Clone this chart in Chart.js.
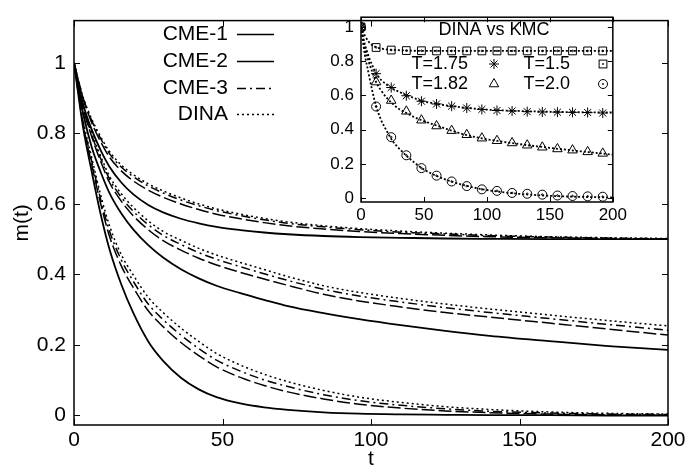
<!DOCTYPE html>
<html>
<head>
<meta charset="utf-8">
<script src="https://cdn.jsdelivr.net/npm/chart.js@4.4.1/dist/chart.umd.min.js"></script>
<style>
  html, body { margin: 0; padding: 0; background: #fff; }
  #wrap { position: relative; width: 692px; height: 470px; }
  #main { position: absolute; left: 0; top: 0; }
  #inset { position: absolute; left: 300px; top: 0; }
</style>
</head>
<body>
<div id="wrap">
  <canvas id="main" width="692" height="470"></canvas>
  <canvas id="inset" width="330" height="228"></canvas>
</div>
<script>
const FONT = '"Liberation Sans", Arial, Helvetica, sans-serif';

// main plot: time grid shared by all curves
const T_MAIN = [0, 3, 6, 9, 12, 16, 20, 25, 30, 36, 42, 48, 56, 64, 72, 84, 96, 110, 125, 140, 160, 180, 200];

// upper group (-> 0.5)
const DINA_A = [1, 0.905, 0.84, 0.79, 0.748, 0.71, 0.683, 0.657, 0.637, 0.617, 0.6, 0.586, 0.571, 0.559, 0.549, 0.538, 0.53, 0.523, 0.517, 0.512, 0.507, 0.504, 0.502];
const CME3_A = [1, 0.903, 0.836, 0.785, 0.742, 0.704, 0.677, 0.651, 0.631, 0.611, 0.595, 0.581, 0.567, 0.555, 0.545, 0.535, 0.527, 0.52, 0.515, 0.51, 0.506, 0.503, 0.501];
const CME2_A = [1, 0.9, 0.83, 0.776, 0.732, 0.693, 0.665, 0.639, 0.619, 0.6, 0.584, 0.571, 0.558, 0.547, 0.538, 0.529, 0.522, 0.516, 0.511, 0.507, 0.504, 0.502, 0.5];
const CME1_A = [1, 0.885, 0.81, 0.752, 0.705, 0.66, 0.627, 0.597, 0.576, 0.558, 0.545, 0.535, 0.526, 0.519, 0.514, 0.509, 0.506, 0.504, 0.502, 0.501, 0.5, 0.5, 0.5];

// middle group
const DINA_B = [1, 0.88, 0.80, 0.735, 0.678, 0.628, 0.59, 0.552, 0.522, 0.497, 0.474, 0.455, 0.434, 0.414, 0.394, 0.368, 0.349, 0.332, 0.316, 0.302, 0.285, 0.269, 0.254];
const CME3_B = [1, 0.878, 0.795, 0.728, 0.67, 0.618, 0.579, 0.541, 0.511, 0.485, 0.462, 0.443, 0.422, 0.402, 0.383, 0.358, 0.339, 0.322, 0.306, 0.292, 0.275, 0.258, 0.242];
const CME2_B = [1, 0.875, 0.79, 0.72, 0.66, 0.607, 0.566, 0.527, 0.496, 0.469, 0.446, 0.427, 0.406, 0.387, 0.369, 0.344, 0.325, 0.308, 0.292, 0.279, 0.262, 0.245, 0.228];
const CME1_B = [1, 0.86, 0.76, 0.69, 0.63, 0.572, 0.527, 0.483, 0.448, 0.415, 0.389, 0.368, 0.347, 0.328, 0.31, 0.29, 0.273, 0.256, 0.24, 0.226, 0.211, 0.197, 0.186];

// lower group (-> 0)
const DINA_C = [1, 0.84, 0.73, 0.625, 0.537, 0.455, 0.398, 0.335, 0.292, 0.248, 0.21, 0.176, 0.143, 0.117, 0.096, 0.071, 0.052, 0.037, 0.025, 0.017, 0.01, 0.006, 0.004];
const CME3_C = [1, 0.835, 0.72, 0.612, 0.522, 0.44, 0.38, 0.316, 0.272, 0.228, 0.19, 0.157, 0.126, 0.101, 0.082, 0.059, 0.042, 0.029, 0.019, 0.012, 0.007, 0.004, 0.003];
const CME2_C = [1, 0.83, 0.71, 0.6, 0.507, 0.423, 0.362, 0.297, 0.252, 0.207, 0.17, 0.138, 0.108, 0.085, 0.067, 0.047, 0.032, 0.021, 0.013, 0.008, 0.004, 0.002, 0.001];
const CME1_C = [1, 0.82, 0.69, 0.57, 0.47, 0.37, 0.29, 0.21, 0.155, 0.107, 0.074, 0.052, 0.034, 0.023, 0.016, 0.009, 0.005, 0.003, 0.002, 0.001, 0.001, 0, 0];

// inset: DINA curves for T=1.5 and T=1.75 (T=1.82, 2.0 reuse DINA_B/C)
const DINA_15 = [1, 0.95, 0.915, 0.893, 0.882, 0.874, 0.869, 0.866, 0.864, 0.862, 0.861, 0.86, 0.86, 0.86, 0.86, 0.86, 0.86, 0.86, 0.86, 0.86, 0.86, 0.86, 0.86];
const DINA_175 = [1, 0.90, 0.83, 0.775, 0.727, 0.69, 0.665, 0.64, 0.622, 0.602, 0.585, 0.568, 0.556, 0.546, 0.537, 0.527, 0.519, 0.513, 0.509, 0.506, 0.503, 0.501, 0.5];

// inset: KMC points
const KMC_T = [0, 12, 24, 36, 48, 60, 72, 84, 96, 108, 120, 132, 144, 156, 168, 180, 192];
const KMC_15 = [1, 0.88, 0.865, 0.862, 0.861, 0.86, 0.86, 0.86, 0.86, 0.86, 0.86, 0.86, 0.86, 0.86, 0.86, 0.86, 0.86];
const KMC_175 = [1, 0.727, 0.646, 0.598, 0.566, 0.55, 0.537, 0.526, 0.518, 0.512, 0.509, 0.505, 0.503, 0.502, 0.501, 0.5, 0.497];
const KMC_182 = [1, 0.678, 0.57, 0.507, 0.455, 0.421, 0.394, 0.37, 0.35, 0.335, 0.322, 0.309, 0.297, 0.287, 0.28, 0.27, 0.261];
const KMC_20 = [1, 0.535, 0.356, 0.25, 0.175, 0.131, 0.097, 0.07, 0.051, 0.042, 0.03, 0.025, 0.02, 0.015, 0.012, 0.01, 0.008];

const X_TICKS = [0, 50, 100, 150, 200];
const Y_TICKS = [0, 0.2, 0.4, 0.6, 0.8, 1];

const LEGEND_NAMES = ['CME-1', 'CME-2', 'CME-3', 'DINA'];
const INSET_TITLE = 'DINA vs KMC';
const INSET_NAMES = ['T=1.75', 'T=1.5', 'T=1.82', 'T=2.0'];

const DASH = {
    cme1: [],
    cme2: [13, 4],
    cme3: [9, 4, 2, 4],
    dina: [2, 3]
};

function pts(xs, ys) {
    return xs.map((x, i) => ({ x: x, y: ys[i] }));
}

function curve(ys, dash, width) {
    return {
        data: pts(T_MAIN, ys),
        borderColor: '#000',
        borderWidth: width,
        borderDash: dash,
        pointRadius: 0,
        fill: false,
        cubicInterpolationMode: 'monotone'
    };
}

function marks(ys, style, radius) {
    return {
        data: pts(KMC_T, ys),
        showLine: false,
        borderColor: '#000',
        backgroundColor: 'rgba(0,0,0,0)',
        pointBorderWidth: 1,
        pointStyle: style,
        pointRadius: radius
    };
}

// box + inward ticks on all four sides
const framePlugin = {
    id: 'frame',
    afterDraw(chart, args, opts) {
        const ctx = chart.ctx;
        const a = chart.chartArea;
        const sx = chart.scales.x, sy = chart.scales.y;
        ctx.save();
        ctx.setLineDash([]);
        ctx.strokeStyle = '#000';
        ctx.lineWidth = 1;
        ctx.beginPath();
        for (const tk of sx.ticks) {
            const px = Math.round(sx.getPixelForValue(tk.value)) + 0.5;
            ctx.moveTo(px, a.bottom); ctx.lineTo(px, a.bottom - opts.tickLen);
            ctx.moveTo(px, a.top); ctx.lineTo(px, a.top + opts.tickLen);
        }
        for (const tk of sy.ticks) {
            const py = Math.round(sy.getPixelForValue(tk.value)) + 0.5;
            ctx.moveTo(a.left, py); ctx.lineTo(a.left + opts.tickLen, py);
            ctx.moveTo(a.right, py); ctx.lineTo(a.right - opts.tickLen, py);
        }
        ctx.stroke();
        ctx.lineWidth = 1.5;
        ctx.strokeRect(a.left, a.top, a.right - a.left, a.bottom - a.top);
        ctx.restore();
    }
};

const mainLegend = {
    id: 'mainLegend',
    afterDraw(chart) {
        const ctx = chart.ctx;
        const dashes = [DASH.cme1, [], DASH.cme3, DASH.dina];
        const rows = [34, 61, 88, 114];
        ctx.save();
        ctx.font = '21px ' + FONT;
        ctx.fillStyle = '#000';
        ctx.textAlign = 'right';
        ctx.textBaseline = 'middle';
        LEGEND_NAMES.forEach((name, i) => {
            ctx.fillText(name, 228, rows[i]);
            ctx.setLineDash(dashes[i]);
            ctx.lineWidth = 1.5;
            ctx.strokeStyle = '#000';
            ctx.beginPath();
            ctx.moveTo(237, rows[i] + 0.5);
            ctx.lineTo(274, rows[i] + 0.5);
            ctx.stroke();
        });
        ctx.restore();
    }
};

function drawMark(ctx, style, x, y, r) {
    ctx.beginPath();
    if (style === 'star') {
        for (let k = 0; k < 4; k++) {
            const ang = k * Math.PI / 4;
            ctx.moveTo(x - r * Math.cos(ang), y - r * Math.sin(ang));
            ctx.lineTo(x + r * Math.cos(ang), y + r * Math.sin(ang));
        }
        ctx.stroke();
    } else if (style === 'rect') {
        const s = r * Math.SQRT1_2;
        ctx.strokeRect(x - s, y - s, 2 * s, 2 * s);
        ctx.fillRect(x - 0.8, y - 0.8, 1.6, 1.6);
    } else if (style === 'triangle') {
        ctx.moveTo(x, y - r);
        ctx.lineTo(x + r * 0.866, y + r * 0.5);
        ctx.lineTo(x - r * 0.866, y + r * 0.5);
        ctx.closePath();
        ctx.stroke();
    } else {
        ctx.arc(x, y, r, 0, Math.PI * 2);
        ctx.stroke();
        ctx.fillRect(x - 0.8, y - 0.8, 1.6, 1.6);
    }
}

const insetLegend = {
    id: 'insetLegend',
    afterDraw(chart) {
        const ctx = chart.ctx;
        ctx.save();
        ctx.font = '18px ' + FONT;
        ctx.fillStyle = '#000';
        ctx.strokeStyle = '#000';
        ctx.lineWidth = 1;
        ctx.textBaseline = 'middle';
        ctx.textAlign = 'center';
        ctx.fillText(INSET_TITLE, 194, 30);
        ctx.textAlign = 'right';
        const cells = [
            [168, 64, 194, 'star', 5],
            [270, 64, 303, 'rect', 5.5],
            [168, 84, 194, 'triangle', 5.5],
            [270, 84, 303, 'circle', 4.5]
        ];
        cells.forEach((c, i) => {
            ctx.fillText(INSET_NAMES[i], c[0], c[1]);
            drawMark(ctx, c[3], c[2], c[1], c[4]);
        });
        ctx.restore();
    }
};

function axis(min, max, ticks, size, fontSize, pad, title, titlePad) {
    return {
        type: 'linear',
        min: min,
        max: max,
        grid: { display: false, drawTicks: false },
        border: { display: false },
        afterBuildTicks: s => { s.ticks = ticks.map(v => ({ value: v })); },
        afterFit: s => {
            if (s.isHorizontal()) s.height = size; else s.width = size;
        },
        ticks: {
            color: '#000',
            font: { family: FONT, size: fontSize },
            padding: pad,
            maxRotation: 0,
            autoSkip: false,
            callback: v => String(v)
        },
        title: {
            display: !!title,
            text: title,
            color: '#000',
            font: { family: FONT, size: 21, lineHeight: 1 },
            padding: titlePad
        }
    };
}

new Chart(document.getElementById('main'), {
    type: 'line',
    data: {
        datasets: [
            curve(DINA_A, DASH.dina, 1.5), curve(CME3_A, DASH.cme3, 1.5), curve(CME2_A, DASH.cme2, 1.5), curve(CME1_A, DASH.cme1, 1.8),
            curve(DINA_B, DASH.dina, 1.5), curve(CME3_B, DASH.cme3, 1.5), curve(CME2_B, DASH.cme2, 1.5), curve(CME1_B, DASH.cme1, 1.8),
            curve(DINA_C, DASH.dina, 1.5), curve(CME3_C, DASH.cme3, 1.5), curve(CME2_C, DASH.cme2, 1.5), curve(CME1_C, DASH.cme1, 1.8)
        ]
    },
    options: {
        responsive: false,
        animation: false,
        devicePixelRatio: 1,
        layout: { padding: { top: 3, right: 24, left: 0, bottom: 0 } },
        plugins: {
            legend: { display: false },
            tooltip: { enabled: false },
            frame: { tickLen: 6 }
        },
        scales: {
            x: axis(0, 200, X_TICKS, 45, 21, 3, 't', { top: 0, bottom: 0 }),
            y: axis(-0.027, 1.12, Y_TICKS, 74, 21, 8, 'm(t)', { top: 12, bottom: 0 })
        }
    },
    plugins: [framePlugin, mainLegend]
});

new Chart(document.getElementById('inset'), {
    type: 'line',
    data: {
        datasets: [
            curve(DINA_15, [2, 2], 1.8), curve(DINA_175, [2, 2], 1.8), curve(DINA_B, [2, 2], 1.8), curve(DINA_C, [2, 2], 1.8),
            marks(KMC_15, 'rect', 5.5), marks(KMC_175, 'star', 5), marks(KMC_182, 'triangle', 5.5), marks(KMC_20, 'circle', 4.5),
            marks(KMC_15, 'circle', 0.8), marks(KMC_20, 'circle', 0.8)
        ]
    },
    options: {
        responsive: false,
        animation: false,
        devicePixelRatio: 1,
        layout: { padding: { top: 13, right: 17, left: 0, bottom: 0 } },
        plugins: {
            legend: { display: false },
            tooltip: { enabled: false },
            frame: { tickLen: 5 }
        },
        scales: {
            x: axis(0, 200, X_TICKS, 26, 17, 3, '', 0),
            y: axis(-0.023, 1.057, Y_TICKS, 61, 17, 7, '', 0)
        }
    },
    plugins: [framePlugin, insetLegend]
});
</script>
</body>
</html>
